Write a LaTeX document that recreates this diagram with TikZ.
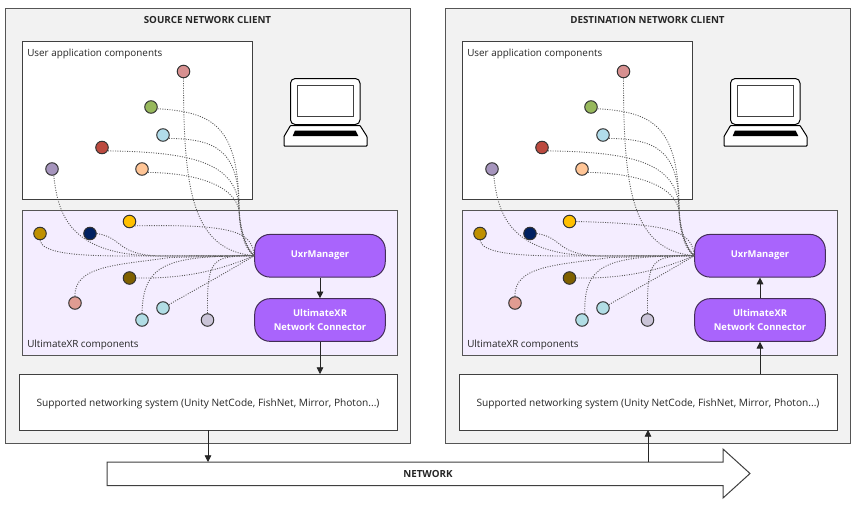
\documentclass[tikz,border=0pt]{standalone}
\usepackage{fontspec}
\setmainfont{Open Sans}
\usetikzlibrary{arrows.meta}
\definecolor{edgegray}{HTML}{555555}
\definecolor{panelgray}{HTML}{F2F2F2}
\definecolor{uxrlilac}{HTML}{F4EDFF}
\definecolor{mgrfill}{HTML}{A964FC}
\definecolor{mgrline}{HTML}{432D57}
\definecolor{cpink}{HTML}{D79090}
\definecolor{cgreen}{HTML}{97B85C}
\definecolor{cblue}{HTML}{B1DCEA}
\definecolor{cred}{HTML}{BC4A3F}
\definecolor{cpeach}{HTML}{FFC596}
\definecolor{cpurple}{HTML}{A695BD}
\definecolor{cgold}{HTML}{BF9000}
\definecolor{cnavy}{HTML}{002060}
\definecolor{cyellow}{HTML}{FFC000}
\definecolor{cbrown}{HTML}{7F6000}
\definecolor{csalmon}{HTML}{E09C92}
\definecolor{ccyan}{HTML}{B1DDE5}
\definecolor{clilac}{HTML}{CAC4D8}
\tikzset{
  panel/.style={draw=edgegray,line width=0.75pt,fill=panelgray,anchor=north west,inner sep=0pt},
  appbox/.style={draw=black!75,line width=0.75pt,fill=white,anchor=north west,inner sep=0pt},
  uxrbox/.style={draw=edgegray,line width=0.75pt,fill=uxrlilac,anchor=north west,inner sep=0pt},
  mgrbox/.style={draw=mgrline,line width=0.75pt,fill=mgrfill,rounded corners=11.5pt,text=white,font=\fontsize{7.05pt}{10.6pt}\selectfont\bfseries,align=center,minimum width=97.9pt,minimum height=32pt,inner sep=0pt},
  comp/.style={circle,draw=black!80,line width=0.75pt,minimum size=9.4pt,inner sep=0pt},
  lbl/.style={font=\fontsize{7.4pt}{9pt}\selectfont,text=black!85,inner sep=0pt},
  netlabel/.style={font=\fontsize{7.6pt}{9pt}\selectfont,text=black!85,inner sep=0pt},
  ttl/.style={font=\fontsize{7.35pt}{9pt}\selectfont\bfseries,text=black!85,inner sep=0pt},
  dot/.style={draw=black!65,line width=0.65pt,dash pattern=on 0.75pt off 1.05pt},
  flow/.style={draw=black!85,line width=0.6pt,-{Triangle[length=5pt,width=5pt]}},
}
% #1 prefix, #2 shift, #3 title, #4 yellow start angle, #5 cyan start angle
\newcommand{\clientside}[5]{%
\begin{scope}[xshift=#2]
  \node[panel,minimum width=303.75pt,minimum height=326.25pt] (#1outer) at (5,8) {};
  \node[ttl] (#1title) at (207.5,19.5) {#3};
  \node[appbox,minimum width=172.5pt,minimum height=118.5pt] (#1app) at (22,41) {};
  \node[lbl,anchor=west] (#1applbl) at (27,54) {User application components};
  \node[uxrbox,minimum width=281.25pt,minimum height=108.75pt] (#1uxr) at (22,210) {};
  \node[lbl,anchor=west] (#1uxrlbl) at (27,345) {UltimateXR components};
  \node[mgrbox] (#1mgr) at (320,255.75) {\raisebox{-0.7pt}{UxrManager}};
  \node[mgrbox] (#1con) at (320,320) {\raisebox{-0.7pt}{UltimateXR}\\\raisebox{-0.7pt}{Network Connector}};
  \node[appbox,minimum width=283.5pt,minimum height=42pt] (#1net) at (19,374) {};
  \node[netlabel] (#1netlbl) at (208,403.5) {Supported networking system (Unity NetCode, FishNet, Mirror, Photon...)};
  % laptop
  \draw[black,line width=0.75pt,fill=white,rounded corners=3.5pt] (290.5,124.5) -- (290.5,78.5) -- (360,78.5) -- (360,124.5) -- cycle;
  \draw[black!75,line width=0.75pt,fill=white] (297.5,85) rectangle (353.5,116);
  \draw[black,line width=0.75pt,fill=white,rounded corners=0.5pt] (290.5,125.5) -- (284,136.5) -- (284,146) -- (367,146) -- (367,136.5) -- (360,125.5) -- cycle;
  \fill[black] (295,130.5) -- (355.5,130.5) -- (358.3,136) -- (292.7,136) -- cycle;
  % components
  \node[comp,fill=cpink] (#1a) at (183.5,71.5) {};
  \node[comp,fill=cgreen] (#1b) at (151,107) {};
  \node[comp,fill=cblue] (#1c) at (163,135) {};
  \node[comp,fill=cred] (#1d) at (102,147.5) {};
  \node[comp,fill=cpeach] (#1e) at (142,169) {};
  \node[comp,fill=cpurple] (#1f) at (52,169) {};
  \node[comp,fill=cgold] (#1g) at (40,233.5) {};
  \node[comp,fill=cnavy] (#1h) at (90,233.5) {};
  \node[comp,fill=cyellow] (#1i) at (129.5,221.5) {};
  \node[comp,fill=cbrown] (#1j) at (129.5,278) {};
  \node[comp,fill=csalmon] (#1k) at (75,303) {};
  \node[comp,fill=ccyan] (#1l) at (163,308) {};
  \node[comp,fill=ccyan] (#1m) at (142,320) {};
  \node[comp,fill=clilac] (#1n) at (207.5,320) {};
  % dotted links
  \begin{scope}[dot]
    \draw (#1a.south) .. controls (183.5,190) and (192,250) .. (#1mgr.west);
    \draw (#1b.-15) .. controls (215,112) and (238,128) .. (239,207) .. controls (239,230) and (245,250) .. (#1mgr.west);
    \draw (#1c.-30) .. controls (215,139) and (238,150) .. (239,205) .. controls (239,232) and (246,250) .. (#1mgr.west);
    \draw (#1d.-30) .. controls (190,152) and (236,162) .. (239,207) .. controls (240,232) and (247,250) .. (#1mgr.west);
    \draw (#1e.-30) .. controls (195,173) and (234,185) .. (239,210) .. controls (240,232) and (248,250) .. (#1mgr.west);
    \draw (#1f.-75) .. controls (58,215) and (70,256) .. (160,256) -- (#1mgr.west);
    \draw (#1g.south) .. controls (42,252) and (70,256) .. (125,256) -- (#1mgr.west);
    \draw (#1h.east) .. controls (125,238) and (115,256) .. (165,256) -- (#1mgr.west);
    \draw (#1i.#4) .. controls (235,224) and (252,232) .. (#1mgr.west);
    \draw (#1j.east) .. controls (190,279) and (225,268) .. (#1mgr.west);
    \draw (#1k.north) .. controls (74,265) and (120,265) .. (170,257.5) -- (#1mgr.west);
    \draw (#1l.30) .. controls (195,290) and (225,273) .. (#1mgr.west);
    \draw (#1m.#5) .. controls (143,262) and (170,256) .. (#1mgr.west);
    \draw (#1n.north) .. controls (207,258) and (212,256) .. (#1mgr.west);
  \end{scope}
\end{scope}}
\begin{document}
\begin{tikzpicture}[x=0.75pt,y=-0.75pt]
\useasboundingbox (0,0) rectangle (860,507);
\fill[white] (0,0) rectangle (860,507);
\clientside{s}{0pt}{SOURCE NETWORK CLIENT}{-40}{90}
\clientside{d}{330pt}{DESTINATION NETWORK CLIENT}{0}{65}
% network arrow
\draw[black!75,line width=0.75pt,fill=white] (107,462) -- (723,462) -- (723,449) -- (750,473.5) -- (723,498) -- (723,485.5) -- (107,485.5) -- cycle;
\node[ttl] (nettext) at (428,474) {NETWORK};
\coordinate (netleft) at (208,462);
\coordinate (netright) at (648,462);
\coordinate (snetin) at (320,374);
\coordinate (dnetout) at (760,374);
\coordinate (snetout) at (208,430);
\coordinate (dnetin) at (648,430);
% flows
\draw[flow] (smgr.south) -- (scon.north);
\draw[flow] (scon.south) -- (snetin);
\draw[flow] (snetout) -- (netleft);
\draw[flow] (netright) -- (dnetin);
\draw[flow] (dnetout) -- (dcon.south);
\draw[flow] (dcon.north) -- (dmgr.south);
\end{tikzpicture}
\end{document}
